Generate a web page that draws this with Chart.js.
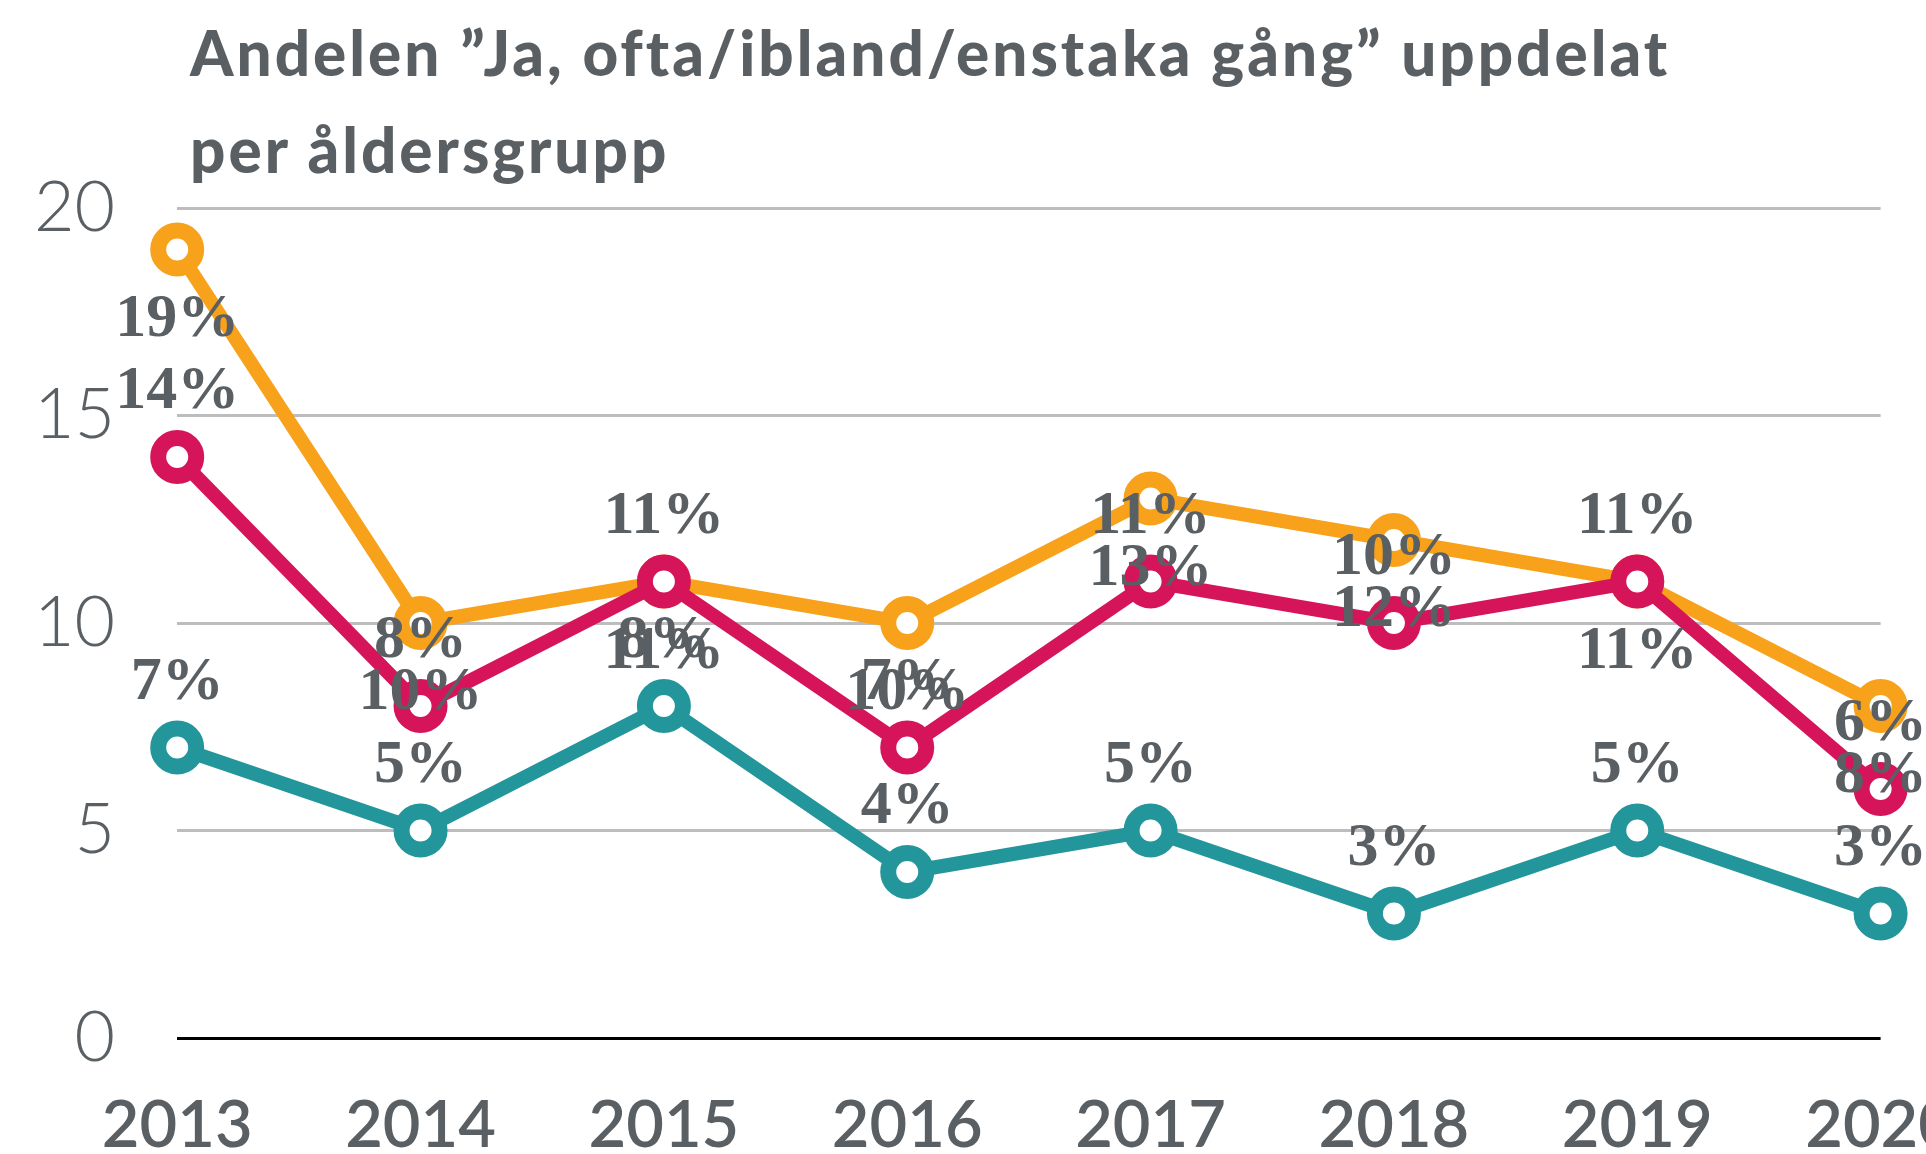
<!DOCTYPE html>
<html>
<head>
<meta charset="utf-8">
<script src="https://cdn.jsdelivr.net/npm/chart.js@4.4.1/dist/chart.umd.min.js"></script>
<style>
  html, body { margin: 0; padding: 0; background: #fff; overflow: hidden; }
  body { width: 1926px; height: 1154px; position: relative; }
  #wrap { position: absolute; left: -64px; top: 0; width: 2068px; height: 1207px; }
  #title {
    position: absolute; left: 190px; top: 4px; margin: 0;
    font-family: Lato, sans-serif; font-weight: 900; font-size: 62px;
    letter-spacing: 3px; line-height: 97px; color: #5a5f63; white-space: nowrap;
  }
</style>
</head>
<body>
<div id="wrap"><canvas id="chart"></canvas></div>
<h1 id="title">Andelen ”Ja, ofta/ibland/enstaka gång” uppdelat<br>per åldersgrupp</h1>
<script>
const years = ["2013", "2014", "2015", "2016", "2017", "2018", "2019", "2020"];
const orangeValues = [19, 10, 11, 10, 13, 12, 11, 8];
const redValues = [14, 8, 11, 7, 11, 10, 11, 6];
const tealValues = [7, 5, 8, 4, 5, 3, 5, 3];
const yTicks = [0, 5, 10, 15, 20];

const textGray = '#5a5f63';

// value labels: orange sits under its point, the others above
const valueLabels = {
  id: 'valueLabels',
  afterDatasetsDraw(chart) {
    const ctx = chart.ctx;
    ctx.save();
    ctx.font = 'bold 62px "Liberation Serif", serif';
    ctx.fillStyle = textGray;
    ctx.textAlign = 'center';
    ctx.textBaseline = 'alphabetic';
    chart.data.datasets.forEach((ds, i) => {
      const meta = chart.getDatasetMeta(i);
      meta.data.forEach((pt, j) => {
        const dy = ds.labelBelow ? 86 : -49;
        ctx.fillText(ds.data[j] + '%', pt.x, pt.y + dy);
      });
    });
    ctx.restore();
  }
};

function series(label, data, color, order, below) {
  return {
    label,
    data,
    order,
    labelBelow: below,
    borderColor: color,
    borderWidth: 14,
    pointRadius: 19,
    pointHoverRadius: 19,
    pointBorderWidth: 16,
    pointBackgroundColor: '#fff',
    pointBorderColor: color,
    tension: 0,
    clip: false
  };
}

new Chart(document.getElementById('chart'), {
  type: 'line',
  data: {
    labels: years,
    datasets: [
      series('Grupp A', orangeValues, '#f8a11a', 1, true),
      series('Grupp B', redValues, '#d6145a', 0, false),
      series('Grupp C', tealValues, '#23969c', 2, false)
    ]
  },
  options: {
    responsive: true,
    maintainAspectRatio: false,
    animation: false,
    layout: { autoPadding: false, padding: { top: 208, left: 36, right: 0, bottom: 0 } },
    plugins: {
      legend: { display: false },
      tooltip: { enabled: false }
    },
    scales: {
      x: {
        offset: false,
        grid: { display: false },
        border: { display: false },
        ticks: {
          color: textGray,
          padding: 48,
          maxRotation: 0,
          autoSkip: false,
          font: { family: 'Lato', weight: '600', size: 65, lineHeight: 1.0 }
        }
      },
      y: {
        min: 0,
        max: 20,
        afterBuildTicks: axis => { axis.ticks = yTicks.map(v => ({ value: v })); },
        grid: {
          drawTicks: false,
          lineWidth: 3,
          color: c => c.tick && c.tick.value === 0 ? '#000' : '#bdbdbd'
        },
        border: { display: false },
        ticks: {
          color: textGray,
          padding: 62,
          font: { family: 'Lato', weight: '300', size: 70 }
        }
      }
    }
  },
  plugins: [valueLabels]
});
</script>
</body>
</html>
